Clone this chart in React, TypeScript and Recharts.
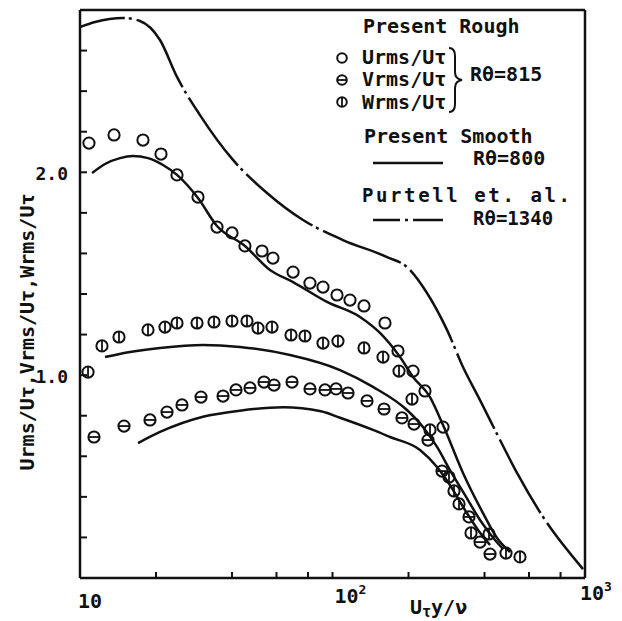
import React from 'react';
import { ComposedChart, Line, Scatter, XAxis, YAxis, ReferenceLine, Legend } from 'recharts';

// ---- data ----
const uRough: [number, number][] = [
  [10.85, 2.144], [13.64, 2.184], [17.76, 2.159], [20.93, 2.09], [24.22, 1.987], [29.33, 1.878],
  [34.88, 1.73], [40.0, 1.701], [45.0, 1.637], [52.6, 1.612], [58.1, 1.577], [69.8, 1.508],
  [81.4, 1.454], [91.7, 1.434], [104.2, 1.395], [117.3, 1.37], [133.3, 1.341], [161.4, 1.257],
  [181.7, 1.119], [208.4, 1.02], [232.4, 0.922], [274.0, 0.744],
];
const vRough: [number, number][] = [
  [11.36, 0.695], [14.94, 0.749], [18.93, 0.779], [22.11, 0.818], [25.35, 0.853], [30.15, 0.892],
  [36.85, 0.897], [41.48, 0.927], [47.13, 0.937], [53.56, 0.966], [58.67, 0.951], [69.13, 0.966],
  [81.45, 0.932], [93.4, 0.927], [103.3, 0.932], [115.2, 0.912], [137.0, 0.873], [160.0, 0.833],
  [188.4, 0.789], [210.3, 0.759], [238.9, 0.68], [271.5, 0.527], [347.2, 0.301], [383.9, 0.177],
  [420.6, 0.118],
];
const wRough: [number, number][] = [
  [10.76, 1.015], [12.22, 1.144], [14.27, 1.188], [18.59, 1.223], [21.71, 1.237], [24.22, 1.257],
  [29.07, 1.257], [33.94, 1.262], [40.0, 1.267], [45.85, 1.267], [50.7, 1.232], [57.6, 1.237],
  [68.5, 1.198], [77.8, 1.193], [91.7, 1.158], [105.1, 1.168], [133.3, 1.134], [158.5, 1.089],
  [183.4, 1.02], [206.5, 0.882], [243.3, 0.73], [289.3, 0.498], [302.8, 0.429], [317.0, 0.365],
  [353.6, 0.222], [416.8, 0.217], [486.6, 0.123], [552.8, 0.104],
];
const uSmooth: [number, number][] = [
  [11.16, 1.996], [12.56, 2.041], [14.4, 2.07], [16.22, 2.08], [18.59, 2.07], [21.32, 2.036],
  [24.22, 1.987], [29.33, 1.873], [34.88, 1.735], [45.0, 1.637], [56.55, 1.518], [69.8, 1.459],
  [95.1, 1.361], [128.5, 1.287], [154.2, 1.208], [185.1, 1.089], [208.4, 0.991], [243.3, 0.892],
  [274.0, 0.754], [328.7, 0.518], [394.5, 0.32], [448.3, 0.197], [504.7, 0.128],
];
const wSmooth: [number, number][] = [
  [12.56, 1.089], [15.78, 1.114], [20.74, 1.134], [30.7, 1.149], [43.02, 1.139], [67.88, 1.099],
  [107.1, 1.025], [144.7, 0.942], [197.2, 0.828], [228.2, 0.744], [259.4, 0.646], [291.9, 0.532],
  [334.8, 0.409], [383.9, 0.286], [440.1, 0.187], [473.4, 0.143],
];
const vSmooth: [number, number][] = [
  [16.97, 0.665], [20.74, 0.72], [30.7, 0.795], [43.0, 0.825], [63.7, 0.842], [90.0, 0.822],
  [107.1, 0.79], [144.7, 0.73], [168.9, 0.695], [222.1, 0.631], [259.4, 0.547], [291.9, 0.458],
  [334.8, 0.335], [376.9, 0.237], [420.6, 0.163],
];
const purtell: [number, number][] = [
  [10.0, 2.716], [11.47, 2.741], [14.8, 2.761], [17.28, 2.746], [20.74, 2.652], [24.22, 2.47],
  [29.87, 2.282], [40.36, 2.061], [55.03, 1.898], [76.41, 1.765], [110.0, 1.666], [164.4, 1.582],
  [197.2, 1.533], [236.7, 1.405], [284.1, 1.223], [328.7, 1.04], [383.9, 0.877], [460.8, 0.68],
  [538.0, 0.518], [682.0, 0.301], [982.0, 0.044],
];

const xTicks = [10, 20, 40, 60, 80, 100, 200, 400, 600, 800, 1000];
const yTicks = [0.2, 0.4, 0.6, 0.8, 1.0, 1.2, 1.4, 1.6, 1.8, 2.0, 2.2, 2.4, 2.6];
const xTickLabels: Record<number, [string, string]> = { 10: ['10', ''], 100: ['10', '2'], 1000: ['10', '3'] };
const yTickLabels: [number, string][] = [[1.0, '1.0'], [2.0, '2.0']];

const yAxisTitle = 'Urms/Uτ,Vrms/Uτ,Wrms/Uτ';

// ---- layout / style ----
const W = 622;
const H = 621;
const PLOT_LEFT = 80;
const PLOT_RIGHT = 585;
const PLOT_TOP = 10;
const PLOT_BOTTOM = 578;
const FONT = '"DejaVu Sans Mono", monospace';
const INK = '#111';
const WEIGHT = 600;

const toPts = (arr: [number, number][]) => arr.map(([x, y]) => ({ x, y }));

const Mark = ({ cx, cy, kind, r = 5.6 }: { cx: number; cy: number; kind: string; r?: number }) => (
  <g>
    <circle cx={cx} cy={cy} r={r} fill="none" stroke={INK} strokeWidth={2} />
    {kind === 'v' && <line x1={cx - r} x2={cx + r} y1={cy} y2={cy} stroke={INK} strokeWidth={1.8} />}
    {kind === 'w' && <line x1={cx} x2={cx} y1={cy - r} y2={cy + r} stroke={INK} strokeWidth={1.8} />}
  </g>
);

const XTick = (props: any) => {
  const { x, payload } = props;
  const v = payload.value;
  const inner = v > 10 && v < 1000;
  const lab = xTickLabels[v];
  const nudge: Record<number, [number, number]> = { 10: [-2, 608], 100: [2, 603], 1000: [-5, 600] };
  return (
    <g>
      {inner && <line x1={x} x2={x} y1={PLOT_BOTTOM} y2={PLOT_BOTTOM - 6} stroke={INK} strokeWidth={2} />}
      {lab && (
        <text x={x + nudge[v][0]} y={nudge[v][1]} fontFamily={FONT} fontSize={20} fontWeight={WEIGHT} fill={INK} textAnchor="start">
          {lab[0]}
          {lab[1] && (
            <tspan dy={-9} fontSize={13}>
              {lab[1]}
            </tspan>
          )}
        </text>
      )}
    </g>
  );
};

const YTick = (props: any) => {
  const { y, payload } = props;
  const v = payload.value;
  const lab = yTickLabels.find(([val]) => Math.abs(val - v) < 1e-6);
  return (
    <g>
      <line x1={PLOT_LEFT} x2={PLOT_LEFT + 7} y1={y} y2={y} stroke={INK} strokeWidth={2} />
      {lab && (
        <text x={PLOT_LEFT - 12} y={y + 8} fontFamily={FONT} fontSize={18} fontWeight={WEIGHT} fill={INK} textAnchor="end">
          {lab[1]}
        </text>
      )}
    </g>
  );
};

const YTitle = () => (
  <text
    x={34}
    y={332}
    transform="rotate(-90 34 332)"
    fontFamily={FONT}
    fontSize={20}
    fontWeight={WEIGHT}
    fill={INK}
    textAnchor="middle"
  >
    {yAxisTitle}
  </text>
);

const XTitle = () => (
  <text x={410} y={614} fontFamily={FONT} fontSize={20} fontWeight={WEIGHT} fill={INK}>
    U
    <tspan fontSize={15} dy={3}>τ</tspan>
    <tspan dy={-3}>y/ν</tspan>
  </text>
);

const LegendBox = () => (
  <svg width={W} height={240} style={{ position: 'absolute', left: 0, top: 0, overflow: 'visible' }}>
    <g fontFamily={FONT} fontSize={20} fontWeight={WEIGHT} fill={INK}>
      <text x={363} y={33}>Present Rough</text>
      <Mark cx={342} cy={58} kind="u" r={4.8} />
      <text x={362} y={64}>Urms/Uτ</text>
      <Mark cx={342} cy={80} kind="v" r={4.8} />
      <text x={362} y={86}>Vrms/Uτ</text>
      <Mark cx={342} cy={102} kind="w" r={4.8} />
      <text x={362} y={109}>Wrms/Uτ</text>
      <path
        d="M449,48 Q455,48 455,56 L455,72 Q455,79 462,80 Q455,81 455,88 L455,104 Q455,112 449,112"
        fill="none"
        stroke={INK}
        strokeWidth={2}
      />
      <text x={470} y={81}>Rθ=815</text>
      <text x={364} y={143}>Present Smooth</text>
      <line x1={373} x2={443} y1={163} y2={163} stroke={INK} strokeWidth={2.5} />
      <text x={473} y={165}>Rθ=800</text>
      <text x={362} y={202} fontSize={19} letterSpacing={2.6}>Purtell et. al.</text>
      <line x1={373} x2={443} y1={220} y2={220} stroke={INK} strokeWidth={2.5} strokeDasharray="27 5 3 5 40" />
      <text x={473} y={225} fontSize={19}>Rθ=1340</text>
    </g>
  </svg>
);

export default function App() {
  return (
    <div style={{ position: 'absolute', left: 0, top: 0, width: W, height: H, background: '#fff' }}>
      <ComposedChart
        width={W}
        height={H}
        margin={{ top: PLOT_TOP, right: W - PLOT_RIGHT, bottom: 0, left: 0 }}
      >
        <XAxis
          dataKey="x"
          type="number"
          scale="log"
          domain={[10, 1000]}
          allowDataOverflow
          ticks={xTicks}
          interval={0}
          height={H - PLOT_BOTTOM}
          tick={<XTick />}
          tickLine={false}
          axisLine={{ stroke: INK, strokeWidth: 2.5 }}
          label={<XTitle />}
        />
        <YAxis
          dataKey="y"
          type="number"
          domain={[0, 2.8]}
          allowDataOverflow
          ticks={yTicks}
          interval={0}
          width={PLOT_LEFT}
          tick={<YTick />}
          tickLine={false}
          axisLine={{ stroke: INK, strokeWidth: 2.5 }}
          label={<YTitle />}
        />
        <ReferenceLine y={2.8} stroke={INK} strokeWidth={2.5} />
        <ReferenceLine x={1000} stroke={INK} strokeWidth={2.5} />
        <Legend layout="vertical" align="center" verticalAlign="middle" content={<LegendBox />}
          wrapperStyle={{ left: 0, top: 0, width: W, height: 240 }} />

        <Line data={toPts(uSmooth)} dataKey="y" type="monotone" stroke={INK} strokeWidth={2.5} dot={false} activeDot={false} isAnimationActive={false} />
        <Line data={toPts(wSmooth)} dataKey="y" type="monotone" stroke={INK} strokeWidth={2.5} dot={false} activeDot={false} isAnimationActive={false} />
        <Line data={toPts(vSmooth)} dataKey="y" type="monotone" stroke={INK} strokeWidth={2.5} dot={false} activeDot={false} isAnimationActive={false} />
        <Line data={toPts(purtell)} dataKey="y" type="monotone" stroke={INK} strokeWidth={2.5} strokeDasharray="84 4 3 5" strokeDashoffset={38} dot={false} activeDot={false} isAnimationActive={false} />

        <Scatter data={toPts(uRough)} isAnimationActive={false} shape={(p: any) => <Mark cx={p.cx} cy={p.cy} kind="u" />} />
        <Scatter data={toPts(vRough)} isAnimationActive={false} shape={(p: any) => <Mark cx={p.cx} cy={p.cy} kind="v" />} />
        <Scatter data={toPts(wRough)} isAnimationActive={false} shape={(p: any) => <Mark cx={p.cx} cy={p.cy} kind="w" />} />
      </ComposedChart>
    </div>
  );
}
